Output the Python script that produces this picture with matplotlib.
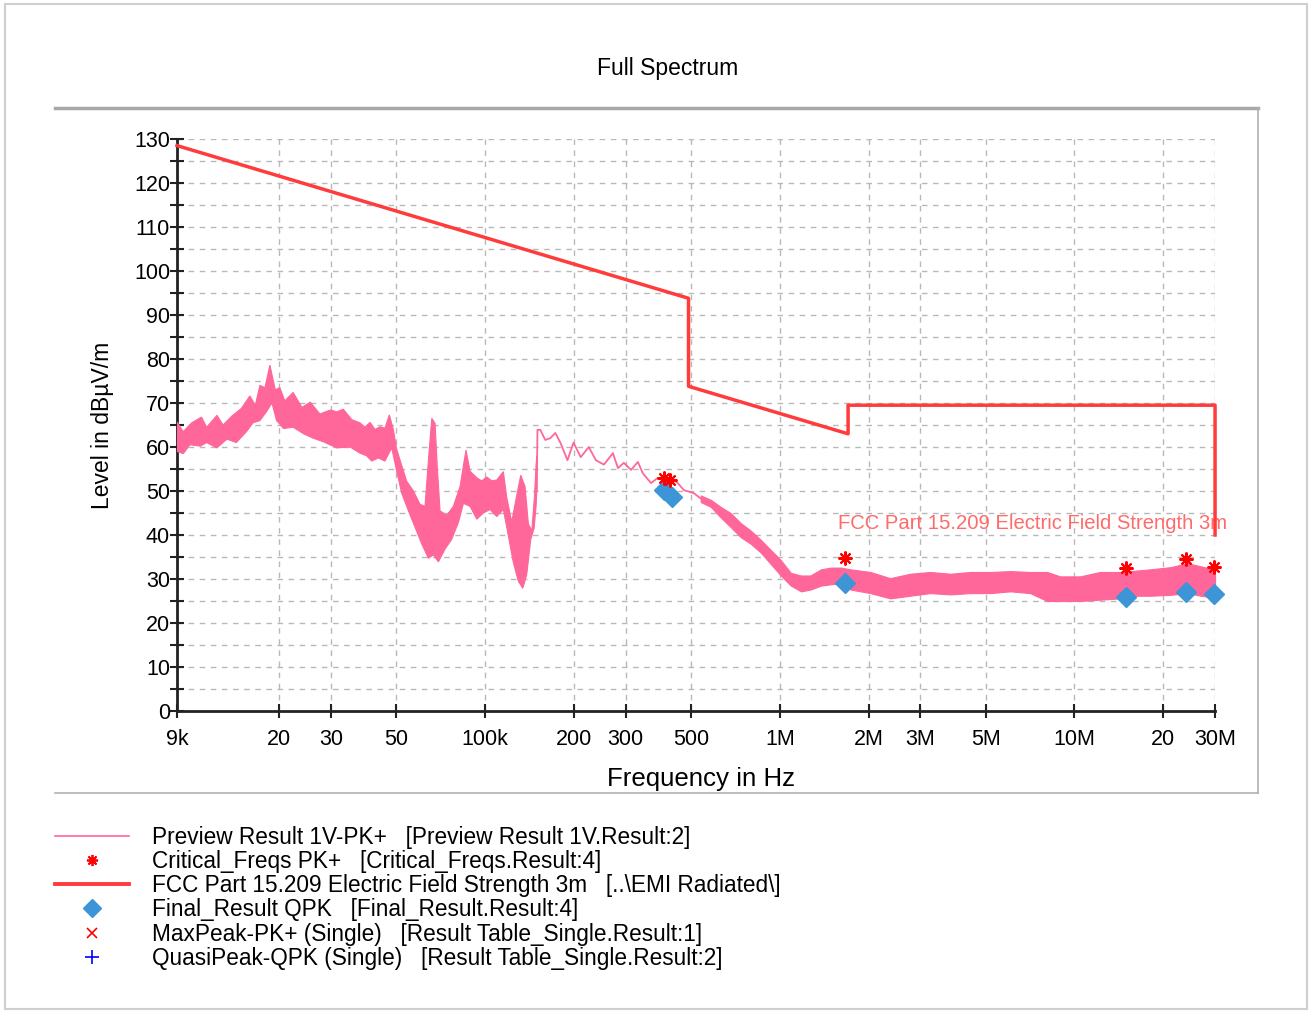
import matplotlib
matplotlib.use('Agg')
import matplotlib.pyplot as plt
from matplotlib.lines import Line2D
from matplotlib.patches import Rectangle

plt.rcParams['font.family'] = ['Liberation Sans', 'DejaVu Sans']

# FCC Part 15.209 limit line (dBuV/m at 3 m), breakpoints
limit_freq = [9e3, 490e3, 490e3, 1.705e6, 1.705e6, 30e6, 30e6]
limit_level = [128.5, 93.8, 73.8, 63.0, 69.5, 69.5, 40.0]

# preview scan 9 kHz - 150 kHz: upper and lower edge of the dense trace (kHz, dBuV/m)
lf_top_k = [9.0, 9.45, 10.1, 10.9, 11.35, 12.3, 12.9, 13.8, 14.9, 15.9, 16.6,
            17.2, 17.9, 18.6, 19.4, 20.1, 20.9, 22.3, 23.9, 25.5, 27.5, 29.8,
            31.4, 33.0, 35.3, 37.6, 39.1, 40.7, 42.3, 44.0, 45.7, 47.3, 48.8,
            50.1, 52.1, 54.2, 57.1, 60.1, 62.5, 64.2, 65.9, 67.6, 68.8, 70.3,
            74.1, 78.0, 82.2, 84.4, 86.1, 88.9, 93.7, 97.4, 101.3, 105.3, 109.5,
            115.3, 118.4, 123.1, 128.0, 132.1, 136.6, 140.2, 144.0, 147.0,
            148.9, 149.7]
lf_top = [65.7, 63.5, 65.5, 66.8, 64.5, 67.2, 65.0, 67.0, 68.8, 71.6, 69.5,
          74.0, 73.5, 78.6, 73.0, 73.5, 70.5, 72.4, 69.0, 70.2, 67.5, 68.4,
          68.0, 68.6, 66.2, 65.5, 64.5, 65.6, 64.0, 64.6, 64.3, 67.3, 64.0,
          59.5, 55.8, 52.2, 50.0, 47.0, 46.5, 57.0, 66.5, 65.4, 55.5, 45.5,
          44.5, 46.5, 51.0, 55.8, 59.3, 54.5, 53.0, 52.3, 53.2, 52.3, 52.5,
          54.4, 48.5, 43.0, 49.0, 53.6, 51.0, 42.5, 41.0, 48.7, 56.0, 58.0]
lf_bottom_k = [9.0, 9.45, 9.96, 10.8, 11.35, 12.3, 13.3, 14.3, 15.5, 16.3,
               17.2, 18.1, 18.9, 19.6, 20.7, 22.3, 24.2, 26.1, 28.2, 31.4,
               34.8, 37.6, 39.6, 41.2, 43.4, 45.7, 48.2, 50.1, 52.1, 54.9,
               57.8, 60.9, 64.2, 66.7, 69.4, 73.1, 77.0, 81.1, 84.4, 88.9,
               93.7, 98.6, 103.9, 109.5, 115.3, 119.9, 124.6, 129.6, 134.2,
               138.4, 142.8, 146.6, 148.9, 149.7]
lf_bottom = [59.0, 58.5, 60.5, 60.2, 61.0, 59.8, 61.8, 61.0, 63.5, 65.5,
             66.0, 68.0, 70.0, 66.0, 64.2, 64.5, 63.0, 62.0, 61.2, 59.8,
             60.0, 58.6, 58.0, 56.8, 57.5, 56.8, 59.8, 54.5, 49.5, 45.5,
             41.8, 38.0, 34.7, 35.5, 33.9, 36.8, 39.0, 42.8, 47.2, 46.5,
             43.6, 45.0, 45.8, 44.2, 45.8, 39.8, 33.8, 29.5, 27.9, 31.0,
             39.0, 41.5, 46.5, 50.0]

# preview scan 150 kHz - 540 kHz, single trace
mid_freq_k = [149.7, 150.5, 153.8, 160.0, 166.4, 173.1, 180.0, 190.3, 199.5,
              211.0, 224.8, 237.6, 252.9, 271.4, 282.3, 295.6, 312.6, 329.9,
              343.1, 365.6, 385.6, 405.0, 426.7, 450.6, 472.6, 510.9, 539.0]
mid_level = [50.0, 63.9, 63.9, 61.6, 62.0, 63.2, 61.0, 57.0, 61.0, 57.7, 60.0,
             57.0, 56.0, 58.6, 55.2, 56.4, 54.8, 56.6, 54.0, 51.8, 53.0, 52.5,
             53.0, 51.8, 50.2, 49.5, 48.3]

# preview scan 540 kHz - 30 MHz: upper and lower edge of the dense trace
hf_freq_k = [539, 583, 630, 681, 737, 797, 862, 932, 1008, 1090, 1180, 1270,
             1380, 1490, 1610, 1740, 2030, 2370, 2770, 3240, 3790, 4430, 5180,
             6060, 7070, 8080, 8940, 10450, 12200, 14300, 15500, 18100, 21200,
             24200, 26800, 29600, 30000]
hf_high = [49.0, 48.0, 46.4, 45.0, 42.7, 41.0, 38.9, 36.6, 34.3, 31.4, 30.8,
           30.8, 32.2, 32.6, 32.6, 32.2, 31.6, 30.2, 31.2, 31.6, 31.2, 31.6,
           31.6, 31.8, 31.6, 31.6, 30.6, 30.6, 31.6, 31.6, 31.8, 32.2, 32.7,
           33.6, 32.9, 32.2, 31.0]
hf_low = [47.5, 46.4, 44.0, 41.8, 39.5, 38.0, 36.0, 33.4, 30.8, 28.5, 27.2,
          27.6, 28.5, 28.8, 29.0, 27.6, 26.8, 25.6, 26.2, 26.8, 26.5, 26.8,
          26.8, 27.2, 26.8, 25.0, 25.0, 25.0, 25.3, 25.6, 26.2, 26.2, 26.4,
          26.8, 26.2, 25.8, 27.0]

# peak search / final measurement points
crit_freq = [405e3, 425e3, 1.665e6, 15.0e6, 23.9e6, 29.8e6]
crit_level = [53.0, 52.6, 34.8, 32.5, 34.5, 32.7]
final_freq = [405e3, 432e3, 1.665e6, 14.97e6, 23.9e6, 29.8e6]
final_level = [50.2, 48.6, 29.1, 25.9, 27.0, 26.6]

xticks = [9e3, 20e3, 30e3, 50e3, 100e3, 200e3, 300e3, 500e3, 1e6, 2e6, 3e6,
          5e6, 10e6, 20e6, 30e6]
xtick_labels = ['9k', '20', '30', '50', '100k', '200', '300', '500', '1M',
                '2M', '3M', '5M', '10M', '20', '30M']

TRACE = '#ff6699'
LIMIT = '#ff3b3b'
DIAMOND = '#3d95d8'

fig = plt.figure(figsize=(13.14, 10.13), dpi=100)
ax = fig.add_axes([0.1347, 0.2981, 0.79, 0.5647])

# dense parts of the trace as filled outlines, the quiet part as a line
lf_x = [f * 1e3 for f in lf_top_k] + [f * 1e3 for f in lf_bottom_k[::-1]]
lf_y = lf_top + lf_bottom[::-1]
ax.fill(lf_x, lf_y, color=TRACE, lw=0.8, zorder=3)
ax.fill_between([f * 1e3 for f in hf_freq_k], hf_low, hf_high,
                color=TRACE, lw=0.8, zorder=3, clip_on=False)
ax.plot([f * 1e3 for f in mid_freq_k], mid_level, color=TRACE, lw=1.3, zorder=3)

ax.plot(limit_freq, limit_level, color=LIMIT, lw=2.5, zorder=4, clip_on=False)
ax.text(1.58e6, 42.7, 'FCC Part 15.209 Electric Field Strength 3m',
        color='#ff6a6a', fontsize=14.6, va='center', ha='left', zorder=2)

ax.plot(crit_freq, crit_level, ls='none', marker=(8, 2, 0), ms=10, mew=1.5,
        color='red', zorder=6, clip_on=False)
ax.plot(final_freq, final_level, ls='none', marker='D', ms=10,
        color=DIAMOND, zorder=5, clip_on=False)

ax.set_xscale('log')
ax.set_xlim(9e3, 30e6)
ax.set_ylim(0, 130)
ax.set_xticks(xticks)
ax.set_xticklabels(xtick_labels)
ax.xaxis.set_minor_locator(matplotlib.ticker.NullLocator())
ax.set_yticks(range(0, 131, 10))
ax.set_yticks(range(5, 130, 10), minor=True)

ax.grid(True, which='major', axis='x', color='#b8b8b8', ls=(0, (4, 4)), lw=1)
ax.grid(True, which='both', axis='y', color='#b8b8b8', ls=(0, (4, 4)), lw=1)
ax.set_axisbelow(True)

for side in ('top', 'right'):
    ax.spines[side].set_visible(False)
for side in ('left', 'bottom'):
    ax.spines[side].set_color('#222222')
    ax.spines[side].set_linewidth(2)
ax.tick_params(axis='both', which='major', direction='inout', length=10,
               width=1.5, color='#222222', labelsize=15.5)
ax.tick_params(axis='y', which='minor', direction='inout', length=10,
               width=1.5, color='#222222')
ax.tick_params(axis='x', pad=8)
ax.tick_params(axis='y', pad=0)

ax.set_xlabel('Frequency in Hz', fontsize=18.6)
ax.xaxis.set_label_coords(0.505, -0.098)
ax.set_ylabel('Level in dBµV/m', fontsize=16.5, labelpad=14)
fig.text(0.508, 0.932, 'Full Spectrum', fontsize=16.5, ha='center', va='center')

# panel frame around the diagram and outer border
fig.add_artist(Line2D([55 / 1314, 1258 / 1314], [1 - 108 / 1013] * 2,
                      transform=fig.transFigure, color='#a8a8a8', lw=2.5))
fig.add_artist(Line2D([1258 / 1314] * 2, [1 - 108 / 1013, 1 - 793 / 1013],
                      transform=fig.transFigure, color='#b0b0b0', lw=1.2))
fig.add_artist(Line2D([55 / 1314, 1258 / 1314], [1 - 793 / 1013] * 2,
                      transform=fig.transFigure, color='#b0b0b0', lw=1.2))
fig.add_artist(Rectangle((5 / 1314, 4 / 1013), 1302 / 1314, 1005 / 1013,
                         transform=fig.transFigure, fill=False,
                         edgecolor='#cfcfcf', lw=1.5))

handles = [
    Line2D([], [], color=TRACE, lw=1.2),
    Line2D([], [], color='red', ls='none', marker=(8, 2, 0), ms=8, mew=1.3),
    Line2D([], [], color=LIMIT, lw=2.8),
    Line2D([], [], color=DIAMOND, ls='none', marker='D', ms=9),
    Line2D([], [], color='red', ls='none', marker='x', ms=7, mew=1.2),
    Line2D([], [], color='blue', ls='none', marker='+', ms=10, mew=1.2),
]
labels = [
    'Preview Result 1V-PK+   [Preview Result 1V.Result:2]',
    'Critical_Freqs PK+   [Critical_Freqs.Result:4]',
    'FCC Part 15.209 Electric Field Strength 3m   [..\\EMI Radiated\\]',
    'Final_Result QPK   [Final_Result.Result:4]',
    'MaxPeak-PK+ (Single)   [Result Table_Single.Result:1]',
    'QuasiPeak-QPK (Single)   [Result Table_Single.Result:2]',
]
fig.legend(handles, labels, loc='upper left',
           bbox_to_anchor=(55 / 1314, 1 - 826 / 1013), frameon=False,
           fontsize=16.3, handlelength=3.25, handletextpad=1.05,
           labelspacing=0.05, borderpad=0, borderaxespad=0)

fig.savefig('out.png', dpi=100)
